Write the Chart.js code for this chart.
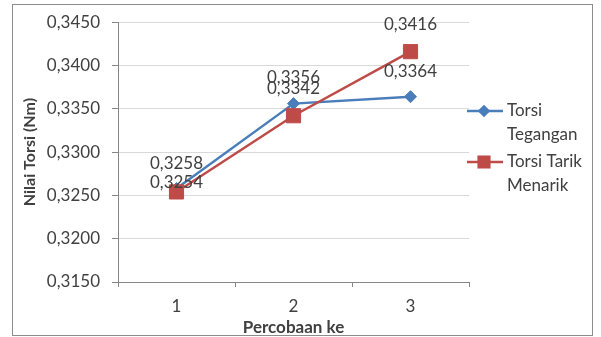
<!DOCTYPE html>
<html>
<head>
<meta charset="utf-8">
<script src="https://cdn.jsdelivr.net/npm/chart.js@4.4.1/dist/chart.umd.min.js"></script>
<style>
  html, body { margin: 0; padding: 0; background: #fff; }
  #wrap { width: 601px; height: 337px; }
</style>
</head>
<body>
<div id="wrap"><canvas id="torsiChart" width="601" height="337"></canvas></div>
<script>
const categories = ['1', '2', '3'];
const tegangan = [0.3258, 0.3356, 0.3364];
const tarikMenarik = [0.3254, 0.3342, 0.3416];
const seriesNames = [['Torsi', 'Tegangan'], ['Torsi Tarik', 'Menarik']];
const yMin = 0.3150, yMax = 0.3450, yStep = 0.0050;

const fmt = v => v.toFixed(4).replace('.', ',');
const textColor = '#404040';
const font = 'Lato';

// chart frame
const framePlugin = {
  id: 'frame',
  beforeDraw(chart) {
    const c = chart.ctx;
    c.save();
    c.fillStyle = '#fff';
    c.fillRect(0, 0, chart.width, chart.height);
    c.strokeStyle = '#8c8c8c';
    c.lineWidth = 1;
    c.strokeRect(12.5, 4.5, 580, 331);
    c.restore();
  }
};

// value labels above the points
const valueLabels = {
  id: 'valueLabels',
  afterDatasetsDraw(chart, args, opts) {
    const c = chart.ctx;
    c.save();
    c.font = '17px ' + font;
    c.fillStyle = textColor;
    c.textAlign = 'center';
    c.textBaseline = 'middle';
    chart.data.datasets.forEach((ds, i) => {
      chart.getDatasetMeta(i).data.forEach((pt, j) => {
        const lift = (opts.lift[i] && opts.lift[i][j] != null) ? opts.lift[i][j] : 26;
        c.fillText(fmt(ds.data[j]), pt.x, pt.y - lift);
      });
    });
    c.restore();
  }
};

// legend on the right, two-line labels
const sideLegend = {
  id: 'sideLegend',
  afterDraw(chart, args, opts) {
    const c = chart.ctx;
    c.save();
    c.font = '17px ' + font;
    c.fillStyle = textColor;
    c.textBaseline = 'middle';
    chart.data.datasets.forEach((ds, i) => {
      const y = opts.top + i * opts.gap;
      c.strokeStyle = ds.borderColor;
      c.lineWidth = ds.borderWidth;
      c.beginPath();
      c.moveTo(opts.x, y);
      c.lineTo(opts.x + 36, y);
      c.stroke();
      Chart.helpers.drawPoint(c, {
        pointStyle: ds.pointStyle, radius: ds.pointRadius * 0.75, borderWidth: 1
      }, opts.x + 17, y);
      c.fillStyle = ds.backgroundColor;
      c.fill();
      c.fillStyle = textColor;
      seriesNames[i].forEach((line, k) => c.fillText(line, opts.x + 40, y + k * 24));
    });
    c.restore();
  }
};

new Chart(document.getElementById('torsiChart'), {
  type: 'line',
  data: {
    labels: categories,
    datasets: [{
      label: 'Torsi Tegangan',
      data: tegangan,
      borderColor: '#4a7ebb',
      backgroundColor: '#4a7ebb',
      borderWidth: 2.5,
      pointStyle: 'rectRot',
      pointRadius: 6,
      pointBorderWidth: 1,
      tension: 0,
      order: 1
    }, {
      label: 'Torsi Tarik Menarik',
      data: tarikMenarik,
      borderColor: '#be4b48',
      backgroundColor: '#be4b48',
      borderWidth: 2.5,
      pointStyle: 'rect',
      pointRadius: 10,
      pointBorderWidth: 1,
      tension: 0,
      order: 0
    }]
  },
  options: {
    responsive: false,
    animation: false,
    layout: { padding: { left: 0, right: 132, top: 22, bottom: 0 } },
    plugins: {
      legend: { display: false },
      tooltip: { enabled: false },
      valueLabels: { lift: [[25, 26, 25], [9, 27, 27]] },
      sideLegend: { x: 467, top: 111, gap: 51 }
    },
    scales: {
      x: {
        offset: true,
        afterFit(scale) { scale.height = 55; },
        grid: { offset: true, drawOnChartArea: false, drawTicks: true, tickLength: 5, color: '#868686' },
        border: { color: '#868686' },
        ticks: { color: textColor, font: { family: font, size: 17 }, padding: 9 },
        title: {
          display: true, text: 'Percobaan ke', color: textColor,
          font: { family: font, size: 17, weight: 'bold' }, padding: { top: 0, bottom: -1 }
        }
      },
      y: {
        min: yMin,
        max: yMax,
        afterFit(scale) { scale.width = 118; },
        grid: { color: '#d9d9d9', tickColor: '#868686', tickLength: 6 },
        border: { color: '#868686' },
        ticks: {
          stepSize: yStep, color: textColor, font: { family: font, size: 17 }, padding: 12,
          callback: v => fmt(v)
        },
        title: {
          display: true, text: 'Nilai Torsi (Nm)', color: textColor,
          font: { family: font, size: 16, weight: 'bold' }, padding: { top: 20, bottom: 0 }
        }
      }
    }
  },
  plugins: [framePlugin, valueLabels, sideLegend]
});
</script>
</body>
</html>
